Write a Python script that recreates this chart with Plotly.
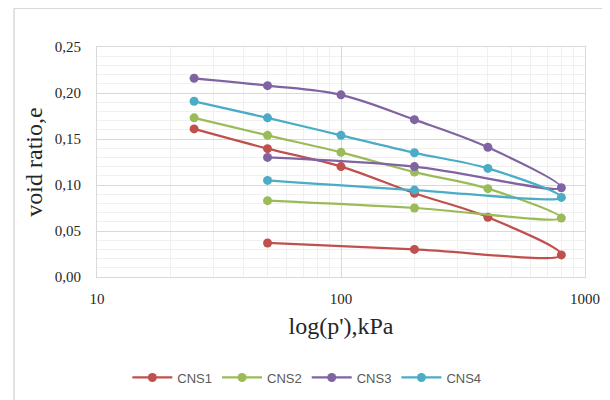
import plotly.graph_objects as go

pressure = [25, 50, 100, 200, 400, 800, 200, 50]
cns1 = [0.161, 0.1395, 0.120, 0.091, 0.065, 0.024, 0.030, 0.037]
cns2 = [0.173, 0.154, 0.1355, 0.114, 0.096, 0.064, 0.075, 0.083]
cns3 = [0.216, 0.208, 0.198, 0.171, 0.141, 0.097, 0.120, 0.130]
cns4 = [0.191, 0.173, 0.154, 0.135, 0.118, 0.0865, 0.0945, 0.105]
names = ["CNS1", "CNS2", "CNS3", "CNS4"]
colors = ["#C0504D", "#9BBB59", "#8064A2", "#4BACC6"]

fig = go.Figure()
for name, vals, col in zip(names, [cns1, cns2, cns3, cns4], colors):
    fig.add_trace(go.Scatter(
        x=pressure, y=vals, name=name, mode="lines+markers",
        line=dict(color=col, width=2.25, shape="spline", smoothing=1),
        marker=dict(color=col, size=9),
    ))

fig.update_layout(
    width=610, height=400,
    margin=dict(l=89, r=33, t=39, b=131),
    paper_bgcolor="white", plot_bgcolor="white",
    separators=", ",
    showlegend=True,
    legend=dict(orientation="h", x=0.43, xanchor="center", y=-0.437, yanchor="middle",
                font=dict(family="Liberation Sans", size=13, color="#595959"),
                itemwidth=40, tracegroupgap=0),
    shapes=[
        dict(type="line", xref="paper", yref="paper", x0=-0.170, x1=-0.170, y0=1.168, y1=-0.6,
             line=dict(color="#D9D9D9", width=1.5)),
        dict(type="line", xref="paper", yref="paper", x0=-0.170, x1=1.1, y0=1.168, y1=1.168,
             line=dict(color="#D9D9D9", width=1.5)),
    ],
)
fig.update_xaxes(
    type="log", range=[1, 3], dtick=1,
    showgrid=True, gridcolor="#D9D9D9", gridwidth=1,
    minor=dict(dtick="D1", showgrid=True, gridcolor="#F0F0F0", gridwidth=1),
    showline=True, linecolor="#D9D9D9", mirror=True,
    ticks="outside", ticklen=8, tickcolor="rgba(0,0,0,0)",
    tickfont=dict(family="Liberation Serif", size=15, color="#262626"),
    title=dict(text="log(p'),kPa", font=dict(family="Liberation Serif", size=24, color="#262626"), standoff=11),
    zeroline=False,
)
fig.update_yaxes(
    range=[0, 0.25], dtick=0.05, tickformat=".2f",
    showgrid=True, gridcolor="#D9D9D9", gridwidth=1,
    minor=dict(dtick=0.01, showgrid=True, gridcolor="#F0F0F0", gridwidth=1),
    showline=True, linecolor="#D9D9D9", mirror=True,
    ticks="outside", ticklen=12, tickcolor="rgba(0,0,0,0)",
    tickfont=dict(family="Liberation Serif", size=15, color="#262626"),
    title=dict(text="void ratio,e", font=dict(family="Liberation Serif", size=24, color="#262626"), standoff=5),
    zeroline=False,
)

fig.write_html("out.html")
